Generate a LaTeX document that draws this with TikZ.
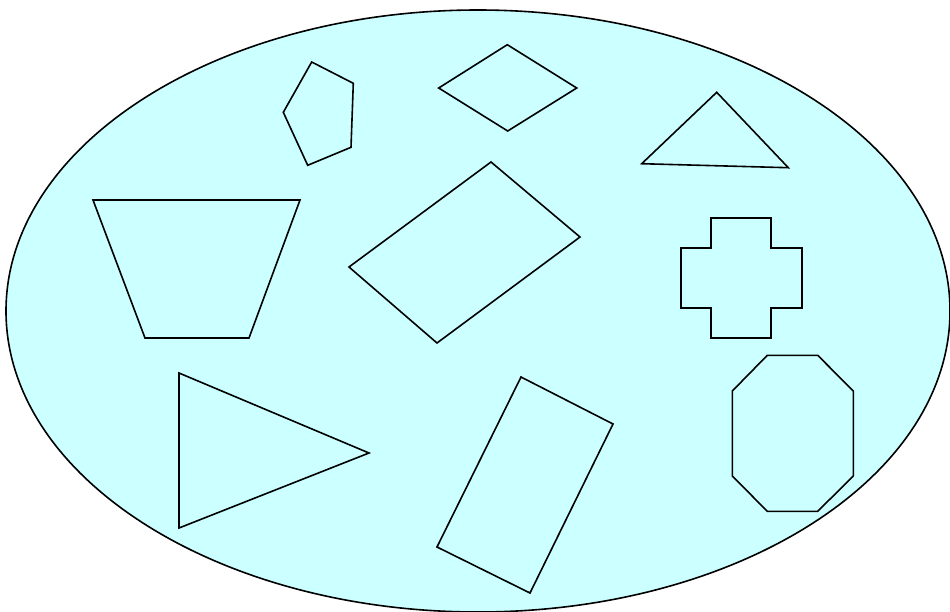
\documentclass[tikz,border=0pt]{standalone}
\definecolor{bgcyan}{HTML}{CCFFFF}
\tikzset{polyshape/.style={draw=black,line width=1.6pt,line join=miter}}
\begin{document}
\begin{tikzpicture}[x=1pt,y=-1pt]
\useasboundingbox (0,0) rectangle (950,611);
\begin{scope}
\clip (0,0) rectangle (950,611);
\draw[fill=bgcyan,line width=1.6pt] (478,311) ellipse [x radius=472, y radius=301];
\end{scope}
% pentagon
\draw[polyshape] (311.7,62) -- (353.3,83.3) -- (351,147.3) -- (307.7,165.3) -- (283.3,112.3) -- cycle;
% rhombus
\draw[polyshape] (507.3,44.7) -- (576.7,88) -- (507.7,131) -- (438.7,88) -- cycle;
% top right triangle
\draw[polyshape] (716.7,92.3) -- (788.3,167.7) -- (641.7,163.7) -- cycle;
% trapezoid
\draw[polyshape] (93,200) -- (300,200) -- (249,338) -- (145,338) -- cycle;
% center rotated rectangle
\draw[polyshape] (491,162) -- (580,237) -- (437,343) -- (349,267) -- cycle;
% cross
\draw[polyshape] (710.7,217.7) -- (771,217.7) -- (771,247.7) -- (801.7,247.7) -- (801.7,308) -- (771,308) -- (771,338) -- (710.7,338) -- (710.7,308) -- (680.7,308) -- (680.7,247.7) -- (710.7,247.7) -- cycle;
% left bottom triangle
\draw[polyshape] (179,373) -- (369,453) -- (179,528) -- cycle;
% bottom rectangle
\draw[polyshape] (521,377) -- (613,424) -- (530,593) -- (437,547) -- cycle;
% octagon
\draw[polyshape] (767.3,355.3) -- (817.7,355.3) -- (853.3,391) -- (853.3,476) -- (817.7,511.3) -- (767.3,511.3) -- (732.3,476) -- (732.3,391) -- cycle;
\end{tikzpicture}
\end{document}
